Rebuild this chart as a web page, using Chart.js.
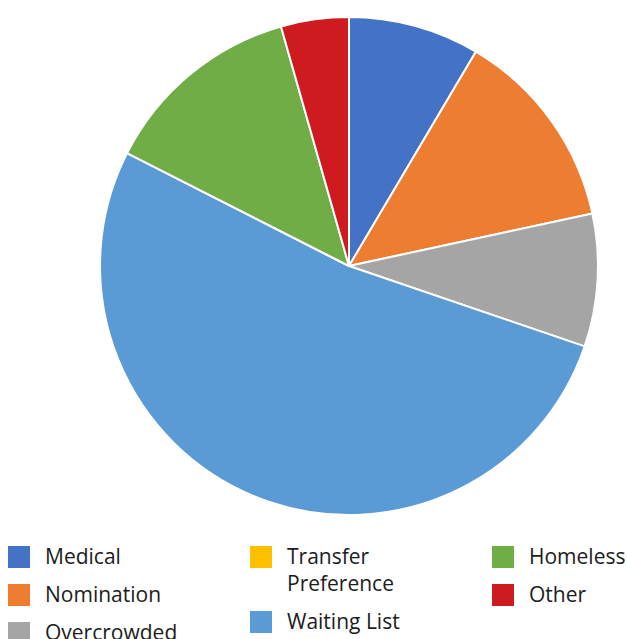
<!DOCTYPE html>
<html>
<head>
<meta charset="utf-8">
<script src="https://cdn.jsdelivr.net/npm/chart.js@4"></script>
<style>
  html, body { margin: 0; padding: 0; background: #fff; width: 627px; height: 639px; overflow: hidden; }
  #wrap { position: absolute; left: 0; top: 0; width: 627px; height: 532px; }
  #legend { position: absolute; left: 8px; top: 543px; height: 120px; display: flex; flex-direction: column; flex-wrap: wrap; align-content: flex-start;
            font-family: "Open Sans", sans-serif; font-size: 21px; line-height: 27px; color: #1c1c1c; }
  .item { width: 242px; display: flex; align-items: flex-start; margin-bottom: 11px; }
  .sw { width: 22px; height: 22px; margin-top: 3px; margin-right: 15px; flex: none; }
  .tx { max-width: 150px; white-space: normal; }
</style>
</head>
<body>
<div id="wrap"><canvas id="c"></canvas></div>
<div id="legend"></div>
<script>
const categories = ["Medical", "Nomination", "Overcrowded", "Transfer Preference", "Waiting List", "Homeless", "Other"];
const values = [8.5, 13.1, 8.6, 0, 52.2, 13.1, 4.4];
const colors = ["#4472C4", "#ED7D31", "#A5A5A5", "#FFC000", "#5B9BD5", "#70AD47", "#CF1A1F"];

new Chart(document.getElementById('c'), {
  type: 'pie',
  data: {
    labels: categories,
    datasets: [{
      data: values,
      backgroundColor: colors,
      borderColor: '#ffffff',
      borderWidth: 2
    }]
  },
  options: {
    responsive: true,
    maintainAspectRatio: false,
    animation: false,
    layout: { padding: { left: 71, right: 0, top: 16, bottom: 16 } },
    plugins: { legend: { display: false }, tooltip: { enabled: false } }
  }
});

const legend = document.getElementById('legend');
categories.forEach((name, i) => {
  const item = document.createElement('div');
  item.className = 'item';
  const sw = document.createElement('div');
  sw.className = 'sw';
  sw.style.background = colors[i];
  const tx = document.createElement('div');
  tx.className = 'tx';
  tx.textContent = name;
  item.appendChild(sw);
  item.appendChild(tx);
  legend.appendChild(item);
});
</script>
</body>
</html>
